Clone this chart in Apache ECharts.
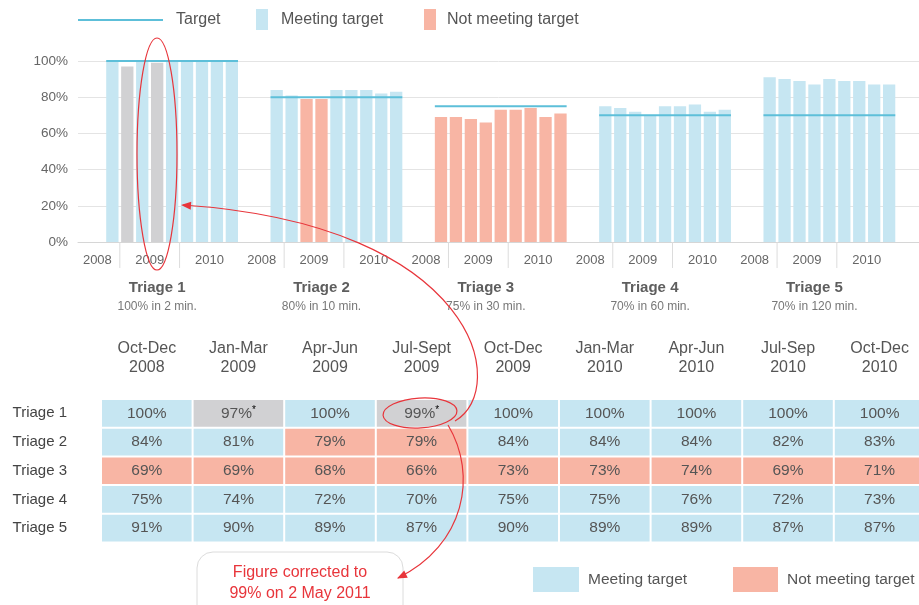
<!DOCTYPE html>
<html><head><meta charset="utf-8">
<script src="https://cdn.jsdelivr.net/npm/echarts@6/dist/echarts.min.js"></script>
<style>html,body{margin:0;padding:0;background:#fff}#c{width:919px;height:605px}</style>
</head><body><div id="c"></div>
<script>
// ---------- data ----------
const quarters = ['Oct-Dec\n2008','Jan-Mar\n2009','Apr-Jun\n2009','Jul-Sept\n2009','Oct-Dec\n2009','Jan-Mar\n2010','Apr-Jun\n2010','Jul-Sep\n2010','Oct-Dec\n2010'];
const triageNames = ['Triage 1','Triage 2','Triage 3','Triage 4','Triage 5'];
const targetTexts = ['100% in 2 min.','80% in 10 min.','75% in 30 min.','70% in 60 min.','70% in 120 min.'];
const targets = [100, 80, 75, 70, 70];
const triage1 = [100, 97, 100, 99, 100, 100, 100, 100, 100];
const triage2 = [84, 81, 79, 79, 84, 84, 84, 82, 83];
const triage3 = [69, 69, 68, 66, 73, 73, 74, 69, 71];
const triage4 = [75, 74, 72, 70, 75, 75, 76, 72, 73];
const triage5 = [91, 90, 89, 87, 90, 89, 89, 87, 87];
const revised = [[0, 1], [0, 3]];           // [triage, quarter] figures marked with *
const yearLabels = ['2008', '2009', '2010'];
const yearSpans = [[0, 0], [1, 4], [5, 8]];   // quarter index ranges per year
const yTicks = [0, 20, 40, 60, 80, 100];
const legendNames = ['Target', 'Meeting target', 'Not meeting target'];
const noteLines = ['Figure corrected to', '99% on 2 May 2011'];

// ---------- style ----------
const BLUE = '#c6e6f2', SALMON = '#f8b5a4', GREY = '#d1d1d3', TARGET = '#5dbfd9', RED = '#e8353b';
const TXT = '#555';
const FONT = '"Liberation Sans", Arial, Helvetica, sans-serif';
const GROUP = 11;   // slots per triage group on the bar axis
const BARW = 12.3;
const COLORS = { meet: BLUE, miss: SALMON, rev: GREY };
const STATS = ['meet', 'miss', 'rev'];

const values = [triage1, triage2, triage3, triage4, triage5];
const isRev = (g, i) => revised.some(r => r[0] === g && r[1] === i);
function status(g, i) {
  if (isRev(g, i)) return 'rev';
  return values[g][i] >= targets[g] ? 'meet' : 'miss';
}

const barData = [];
const cellData = [];
values.forEach((arr, g) => arr.forEach((v, i) => {
  barData.push({ value: [g * GROUP + i, v], itemStyle: { color: COLORS[status(g, i)] } });
  cellData.push([i, g, v, STATS.indexOf(status(g, i))]);
}));
const targetData = targets.map((t, g) => [g * GROUP, g * GROUP + quarters.length - 1, t]);
const groupData = triageNames.map((n, g) => [g * GROUP, 0, g]);

const chart = echarts.init(document.getElementById('c'), null, { renderer: 'canvas' });

function arrowHead(tip, from, len, half) {
  const dx = tip[0] - from[0], dy = tip[1] - from[1];
  const L = Math.hypot(dx, dy), ux = dx / L, uy = dy / L;
  const bx = tip[0] - ux * len, by = tip[1] - uy * len;
  return { type: 'polygon', z: 120, shape: { points: [tip, [bx - uy * half, by + ux * half], [bx + uy * half, by - ux * half]] }, style: { fill: RED } };
}
const a1 = { x1: 455, y1: 421, cpx1: 510, cpy1: 390, cpx2: 480, cpy2: 225, x2: 183, y2: 205 };
const a2 = { x1: 448, y1: 425, cpx1: 478, cpy1: 475, cpx2: 465, cpy2: 545, x2: 398, y2: 578 };

chart.setOption({
  animation: false,
  backgroundColor: '#fff',
  textStyle: { fontFamily: FONT },
  grid: [
    { left: 78, right: 0, top: 61, height: 181, outerBoundsMode: 'none' },
    { left: 101, width: 824.4, top: 399, height: 143.5, outerBoundsMode: 'none' }
  ],
  xAxis: [
    { type: 'value', gridIndex: 0, min: -2.3, max: 54, axisLabel: { show: false }, axisTick: { show: false }, splitLine: { show: false },
      axisLine: { show: true, lineStyle: { color: '#d6d6d6', width: 1 } } },
    { type: 'category', gridIndex: 1, position: 'top', data: quarters, axisLine: { show: false }, axisTick: { show: false },
      axisLabel: { interval: 0, margin: 21.5, fontSize: 16, lineHeight: 19, color: TXT, fontFamily: FONT } }
  ],
  yAxis: [
    { type: 'value', gridIndex: 0, min: 0, max: 100, interval: 20, axisLine: { show: false }, axisTick: { show: false },
      axisLabel: { formatter: v => yTicks.includes(v) ? v + '%' : '', fontSize: 13.5, color: '#666', margin: 10, fontFamily: FONT },
      splitLine: { lineStyle: { color: '#e4e4e4', width: 1 } } },
    { type: 'category', gridIndex: 1, inverse: true, data: triageNames, axisLine: { show: false }, axisTick: { show: false },
      axisLabel: { margin: 34, fontSize: 15, color: '#444', fontFamily: FONT } }
  ],
  series: [
    { type: 'bar', xAxisIndex: 0, yAxisIndex: 0, barWidth: BARW, data: barData, z: 2 },
    { type: 'custom', xAxisIndex: 0, yAxisIndex: 0, data: targetData, encode: { x: [0, 1], y: 2 }, z: 5,
      renderItem(params, api) {
        const a = api.coord([api.value(0), api.value(2)]);
        const b = api.coord([api.value(1), api.value(2)]);
        return { type: 'line', shape: { x1: a[0] - BARW / 2, y1: a[1], x2: b[0] + BARW / 2, y2: b[1] }, style: { stroke: TARGET, lineWidth: 2 } };
      } },
    { type: 'custom', xAxisIndex: 0, yAxisIndex: 0, data: groupData, encode: { x: 0, y: 1 }, z: 3,
      renderItem(params, api) {
        const s0 = api.value(0), g = api.value(2);
        const base = api.coord([s0, 0]);
        const y0 = base[1];
        const xOf = q => api.coord([s0 + q, 0])[0];
        const children = [];
        yearSpans.forEach((sp, k) => {
          if (k > 0) {
            const xs = (xOf(sp[0] - 1) + xOf(sp[0])) / 2;
            children.push({ type: 'line', shape: { x1: xs, y1: y0, x2: xs, y2: y0 + 26 }, style: { stroke: '#dcdcdc', lineWidth: 1 } });
          }
          let tx, align;
          if (sp[0] === sp[1]) { tx = (xOf(sp[1]) + xOf(sp[1] + 1)) / 2 - 8; align = 'right'; }
          else { tx = (xOf(sp[0]) + xOf(sp[1])) / 2; align = 'center'; }
          children.push({ type: 'text', style: { x: tx, y: y0 + 18, text: yearLabels[k], align, verticalAlign: 'middle', fill: '#666', font: '13px ' + FONT } });
        });
        const tcx = xOf(3);
        children.push({ type: 'text', style: { x: tcx, y: y0 + 46, text: triageNames[g], align: 'center', verticalAlign: 'middle', fill: '#5e5e5e', font: 'bold 15px ' + FONT } });
        children.push({ type: 'text', style: { x: tcx, y: y0 + 64.5, text: targetTexts[g], align: 'center', verticalAlign: 'middle', fill: '#777', font: '12px ' + FONT } });
        return { type: 'group', children };
      } },
    { type: 'custom', xAxisIndex: 1, yAxisIndex: 1, data: cellData, encode: { x: 0, y: 1 }, z: 2,
      renderItem(params, api) {
        const c = api.coord([api.value(0), api.value(1)]);
        const s = api.size([1, 1]);
        const st = STATS[api.value(3)];
        const txt = st === 'rev' ? '{v|' + api.value(2) + '%}{s|*}' : '{v|' + api.value(2) + '%}';
        return {
          type: 'group', children: [
            { type: 'rect', shape: { x: c[0] - s[0] / 2 + 1, y: c[1] - s[1] / 2 + 1, width: s[0] - 2, height: s[1] - 2 }, style: { fill: COLORS[st] } },
            { type: 'text', style: { x: c[0], y: c[1], text: txt, align: 'center', verticalAlign: 'middle',
              rich: { v: { fontSize: 15.5, fill: TXT, fontFamily: FONT, color: TXT }, s: { fontSize: 10, color: TXT, fontFamily: FONT, padding: [0, 0, 6, 0] } } } }
          ]
        };
      } }
  ],
  graphic: [
    // top legend
    { type: 'line', shape: { x1: 78, y1: 20, x2: 163, y2: 20 }, style: { stroke: TARGET, lineWidth: 2 } },
    { type: 'text', style: { x: 176, y: 20, text: legendNames[0], verticalAlign: 'middle', fill: TXT, font: '16px ' + FONT } },
    { type: 'rect', shape: { x: 256, y: 9, width: 12, height: 21 }, style: { fill: BLUE } },
    { type: 'text', style: { x: 281, y: 20, text: legendNames[1], verticalAlign: 'middle', fill: TXT, font: '16px ' + FONT } },
    { type: 'rect', shape: { x: 424, y: 9, width: 12, height: 21 }, style: { fill: SALMON } },
    { type: 'text', style: { x: 447, y: 20, text: legendNames[2], verticalAlign: 'middle', fill: TXT, font: '16px ' + FONT } },
    // bottom legend
    { type: 'rect', shape: { x: 533, y: 567, width: 46, height: 25 }, style: { fill: BLUE } },
    { type: 'text', style: { x: 588, y: 580, text: legendNames[1], verticalAlign: 'middle', fill: TXT, font: '15.5px ' + FONT } },
    { type: 'rect', shape: { x: 733, y: 567, width: 45, height: 25 }, style: { fill: SALMON } },
    { type: 'text', style: { x: 787, y: 580, text: legendNames[2], verticalAlign: 'middle', fill: TXT, font: '15.5px ' + FONT } },
    // annotations
    { type: 'ellipse', z: 110, shape: { cx: 157, cy: 154, rx: 20, ry: 116 }, style: { fill: 'none', stroke: RED, lineWidth: 1.2 } },
    { type: 'ellipse', z: 110, x: 420, y: 413, rotation: 0.06, shape: { cx: 0, cy: 0, rx: 37, ry: 15 }, style: { fill: 'none', stroke: RED, lineWidth: 1.2 } },
    { type: 'rect', z: 105, shape: { x: 197, y: 552, width: 206, height: 75, r: 16 }, style: { fill: '#fff', stroke: '#dcdcdc', lineWidth: 1 } },
    { type: 'text', z: 106, style: { x: 300, y: 583, text: noteLines.join('\n'), align: 'center', verticalAlign: 'middle', lineHeight: 21, fill: RED, font: '16px ' + FONT } },
    { type: 'bezierCurve', z: 115, shape: a1, style: { fill: 'none', stroke: RED, lineWidth: 1.2 } },
    arrowHead([a1.x2 - 2, a1.y2], [a1.cpx2, a1.cpy2], 10, 4),
    { type: 'bezierCurve', z: 115, shape: a2, style: { fill: 'none', stroke: RED, lineWidth: 1.2 } },
    arrowHead([a2.x2 - 1, a2.y2 + 0.5], [a2.cpx2, a2.cpy2], 10, 4)
  ]
});
</script></body></html>
